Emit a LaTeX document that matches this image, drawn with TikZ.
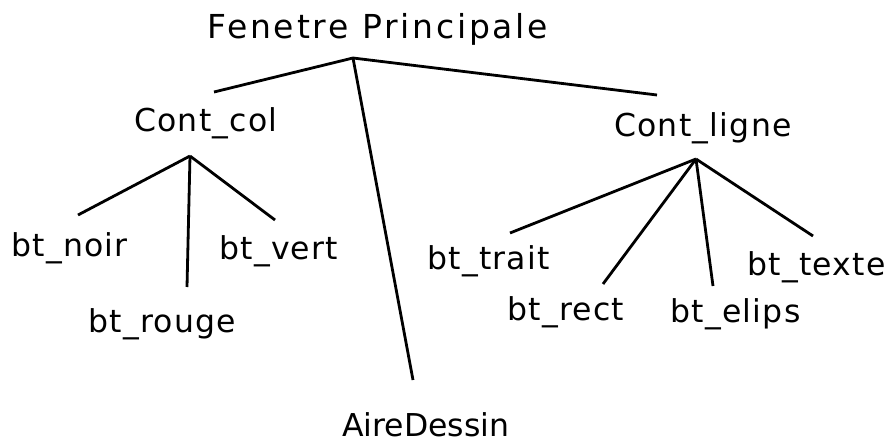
\documentclass[tikz,border=0pt]{standalone}
\usepackage{fontspec}
\setmainfont{DejaVu Sans}
\newfontfamily\titlefont[LetterSpace=8.5]{DejaVu Sans}
\newfontfamily\labfont[LetterSpace=4]{DejaVu Sans}
\newfontfamily\plainfont{DejaVu Sans}
\begin{document}
\begin{tikzpicture}[x=1pt,y=-1pt,
  lbl/.style={anchor=base west,inner sep=0pt,font=\labfont\fontsize{31.5}{36}\selectfont},
  plainlbl/.style={anchor=base west,inner sep=0pt,font=\plainfont\fontsize{31.5}{36}\selectfont},
  ttl/.style={anchor=base west,inner sep=0pt,font=\titlefont\fontsize{33}{38}\selectfont},
  link/.style={line width=2.8pt}]
\useasboundingbox (0,0) rectangle (894,439);
% nodes
\node[ttl] (fp) at (207,38) {Fenetre Principale};
\node[lbl] (cc) at (134,131) {Cont\_col};
\node[lbl] (cl) at (614,136) {Cont\_ligne};
\node[plainlbl] (ad) at (342,436) {AireDessin};
\node[lbl] (bn) at (11,256) {bt\_noir};
\node[lbl] (br) at (88,332) {bt\_rouge};
\node[lbl] (bv) at (219,259) {bt\_vert};
\node[lbl] (bt) at (427,269) {bt\_trait};
\node[lbl] (bre) at (507,320) {bt\_rect};
\node[lbl] (be) at (670,322) {bt\_elips};
\node[lbl] (btx) at (747,275) {bt\_texte};
% connector end points
\coordinate (fp-j) at (353,58);
\coordinate (cc-in) at (214,92);
\coordinate (cl-in) at (657,95);
\coordinate (ad-in) at (413,380);
\coordinate (cc-j) at (190,156);
\coordinate (bn-in) at (78,215);
\coordinate (br-in) at (187,287);
\coordinate (bv-in) at (275,220);
\coordinate (cl-j) at (696,159);
\coordinate (bt-in) at (510,233);
\coordinate (bre-in) at (603,284);
\coordinate (be-in) at (713,286);
\coordinate (btx-in) at (813,236);
% connectors
\draw[link] (fp-j) -- (cc-in);
\draw[link] (fp-j) -- (cl-in);
\draw[link] (fp-j) -- (ad-in);
\draw[link] (cc-j) -- (bn-in);
\draw[link] (cc-j) -- (br-in);
\draw[link] (cc-j) -- (bv-in);
\draw[link] (cl-j) -- (bt-in);
\draw[link] (cl-j) -- (bre-in);
\draw[link] (cl-j) -- (be-in);
\draw[link] (cl-j) -- (btx-in);
\end{tikzpicture}
\end{document}
